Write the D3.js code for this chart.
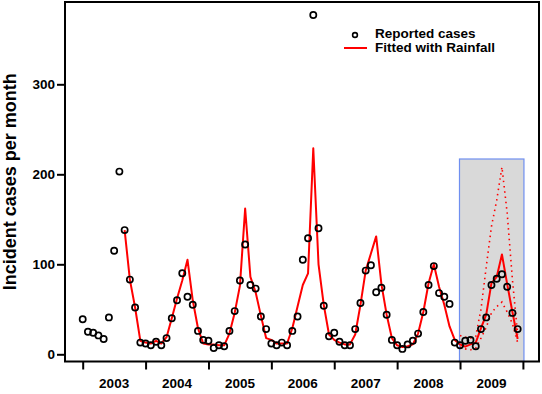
<!DOCTYPE html>
<html lang="en">
<head>
  <meta charset="UTF-8">
  <title>Incident cases per month</title>
  <script src="https://d3js.org/d3.v7.min.js"></script>
  <style>
    body { margin: 0; background: white; }
    svg text { font-family: "Liberation Sans", Arial, sans-serif; font-weight: bold; fill: black; }
  </style>
</head>
<body>
  <svg id="chart" width="542" height="394"></svg>

  <script>
    // monthly series, Jan 2003 .. Dec 2009 (index 0..83)
    const years = ["2003", "2004", "2005", "2006", "2007", "2008", "2009"];
    const reported = [
      39, 25, 24, 21, 17, 41, 115, 203, 138, 83, 52, 13,
      12, 10, 14, 10, 18, 40, 60, 90, 64, 55, 26, 16,
      15, 7, 10, 9, 26, 48, 82, 122, 77, 73, 42, 28,
      12, 10, 13, 10, 26, 42, 105, 129, 377, 140, 54, 20,
      24, 14, 10, 10, 28, 57, 93, 99, 69, 74, 44, 16,
      10, 6, 11, 15, 23, 47, 77, 98, 68, 64, 56, 13,
      10, 15, 16, 9, 28, 41, 77, 84, 89, 75, 46, 28
    ];
    // fitted with rainfall starts in Sep 2003 (index 8)
    const fittedStart = 8;
    const fitted = [
      138, 83, 52, 15,
      13, 12, 15, 12, 19, 40, 62, 82, 105, 60, 29, 12,
      11, 11, 10, 10, 23, 46, 76, 162, 86, 69, 43, 18,
      16, 12, 12, 12, 29, 53, 77, 90, 229, 100, 55, 22,
      16, 13, 11, 11, 22, 55, 93, 112, 131, 78, 44, 18,
      10, 8, 9, 11, 23, 47, 79, 100, 75, 55, 31, 16,
      11, 8.5, 11, 13, 29, 44, 79, 86, 111, 78, 47, 17
    ];
    // prediction bounds for 2009 (index 72..83)
    const boundStart = 72;
    const upper = [21, 19, 18, 20, 50, 97, 142, 171, 208, 157, 83, 22];
    const lower = [8, 6, 5, 7, 18, 30, 46, 53, 58, 47, 34, 13];
    const yTicks = [0, 100, 200, 300];
    const forecastBox = { from: 71.9, to: 84.2, top: 217 };

    const svg = d3.select("#chart");
    const frame = { left: 65, right: 539, top: 2, bottom: 361.5 };

    const x = d3.scaleLinear().domain([0, 84]).range([82.7, 522.9]);
    const y = d3.scaleLinear().domain([0, 300]).range([354.3, 84.3]);

    // shaded forecast window
    svg.append("rect")
      .attr("x", x(forecastBox.from))
      .attr("y", y(forecastBox.top))
      .attr("width", x(forecastBox.to) - x(forecastBox.from))
      .attr("height", frame.bottom - y(forecastBox.top))
      .attr("fill", "#d9d9d9")
      .attr("stroke", "#6f8ff0")
      .attr("stroke-width", 1.2);

    // frame
    svg.append("rect")
      .attr("x", frame.left)
      .attr("y", frame.top)
      .attr("width", frame.right - frame.left)
      .attr("height", frame.bottom - frame.top)
      .attr("fill", "none")
      .attr("stroke", "black")
      .attr("stroke-width", 2);

    // y axis
    const yAxis = svg.append("g")
      .attr("transform", "translate(" + frame.left + ",0)")
      .call(d3.axisLeft(y).tickValues(yTicks).tickSize(8).tickPadding(2));
    yAxis.select(".domain").remove();
    yAxis.selectAll("line").attr("stroke-width", 2);
    yAxis.selectAll("text").style("font-size", "13.5px");

    // x axis: ticks at each year start, labels mid-year
    const xAxis = svg.append("g")
      .attr("transform", "translate(0," + frame.bottom + ")")
      .call(d3.axisBottom(x).tickValues(d3.range(0, 85, 12)).tickSize(8).tickFormat(""));
    xAxis.select(".domain").remove();
    xAxis.selectAll("line").attr("stroke-width", 2);

    svg.append("g").selectAll("text")
      .data(years)
      .enter().append("text")
      .attr("x", (d, i) => x(i * 12 + 6))
      .attr("y", 388)
      .attr("text-anchor", "middle")
      .style("font-size", "13.5px")
      .text(d => d);

    svg.append("text")
      .attr("transform", "translate(16," + (frame.top + frame.bottom) / 2 + ") rotate(-90)")
      .attr("text-anchor", "middle")
      .style("font-size", "18px")
      .text("Incident cases per month");

    // bounds (dotted)
    const boundLine = d3.line()
      .x((d, i) => x(boundStart + i))
      .y(d => y(d));
    [upper, lower].forEach(b => {
      svg.append("path")
        .attr("d", boundLine(b))
        .attr("fill", "none")
        .attr("stroke", "#ff0000")
        .attr("stroke-width", 1.6)
        .attr("stroke-dasharray", "1.5,3.8");
    });

    // fitted line
    svg.append("path")
      .attr("d", d3.line().x((d, i) => x(fittedStart + i)).y(d => y(d))(fitted))
      .attr("fill", "none")
      .attr("stroke", "#ff0000")
      .attr("stroke-width", 2)
      .attr("stroke-linejoin", "round");

    // reported points
    svg.append("g").selectAll("circle")
      .data(reported)
      .enter().append("circle")
      .attr("cx", (d, i) => x(i))
      .attr("cy", d => y(d))
      .attr("r", 3.1)
      .attr("fill", "none")
      .attr("stroke", "black")
      .attr("stroke-width", 1.7);

    // legend
    const legend = svg.append("g");
    legend.append("circle")
      .attr("cx", 355).attr("cy", 35).attr("r", 2.4)
      .attr("fill", "none").attr("stroke", "black").attr("stroke-width", 1.6);
    legend.append("text")
      .attr("x", 375).attr("y", 38)
      .style("font-size", "13.5px")
      .text("Reported cases");
    legend.append("line")
      .attr("x1", 344).attr("x2", 367).attr("y1", 48).attr("y2", 48)
      .attr("stroke", "#ff0000").attr("stroke-width", 2);
    legend.append("text")
      .attr("x", 375).attr("y", 52)
      .style("font-size", "13.5px")
      .text("Fitted with Rainfall");
  </script>
</body>
</html>
